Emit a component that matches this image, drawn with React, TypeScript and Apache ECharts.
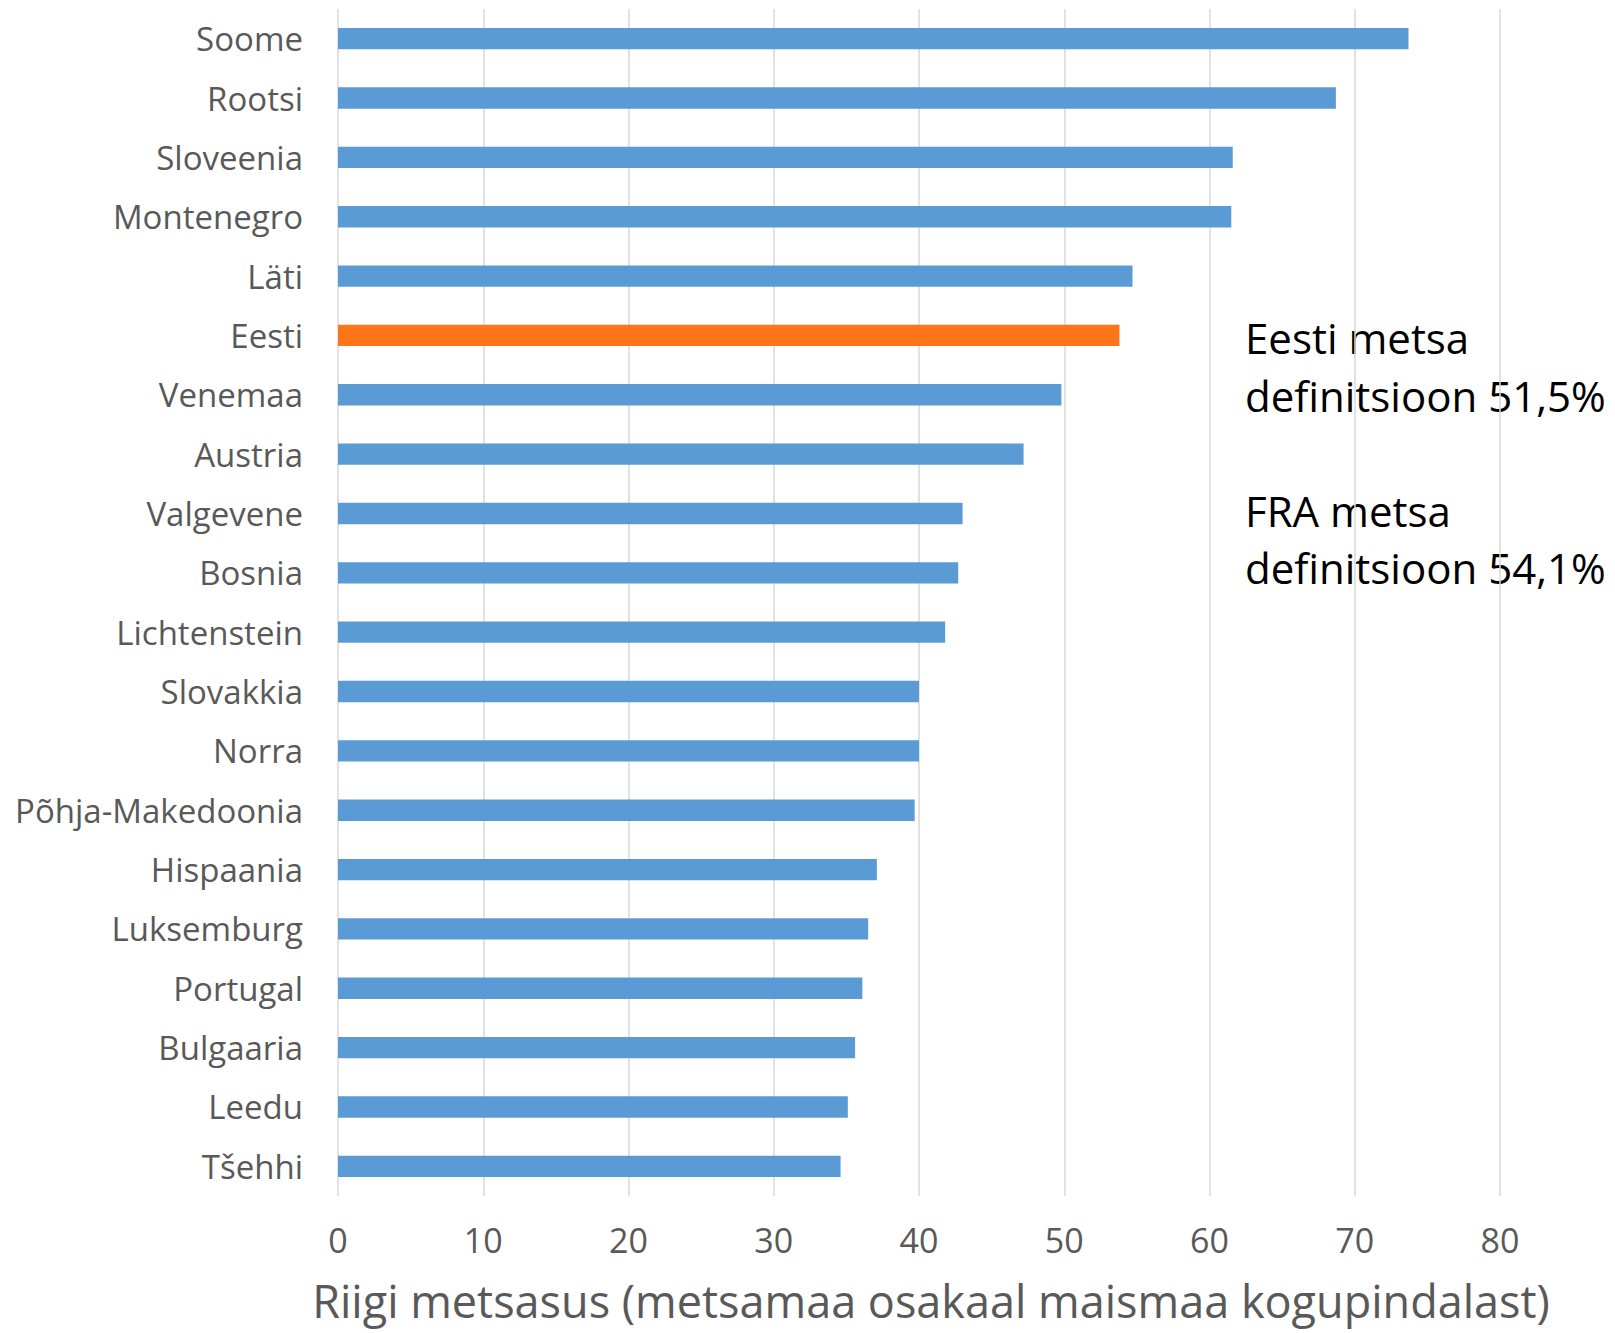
import React, { useEffect, useRef } from "react";
import * as echarts from "echarts";

const categories = [
  "Soome", "Rootsi", "Sloveenia", "Montenegro", "Läti", "Eesti", "Venemaa",
  "Austria", "Valgevene", "Bosnia", "Lichtenstein", "Slovakkia", "Norra",
  "Põhja-Makedoonia", "Hispaania", "Luksemburg", "Portugal", "Bulgaaria",
  "Leedu", "Tšehhi",
];
const values = [
  73.7, 68.7, 61.6, 61.5, 54.7, 53.8, 49.8,
  47.2, 43.0, 42.7, 41.8, 40.0, 40.0,
  39.7, 37.1, 36.5, 36.1, 35.6,
  35.1, 34.6,
];
const highlighted = "Eesti";
const xTicks = { min: 0, max: 80, interval: 10 };
const axisTitle = "Riigi metsasus (metsamaa osakaal maismaa kogupindalast)";
const noteLines = [
  "Eesti metsa",
  "definitsioon 51,5%",
  "FRA metsa",
  "definitsioon 54,1%",
];

const FONT = "'Open Sans', sans-serif";
const GREY = "#595959";
const BLUE = "#5B9BD5";
const ORANGE = "#FF7519";

export default function App() {
  const ref = useRef<HTMLDivElement>(null);
  useEffect(() => {
    if (!ref.current) return;
    const chart = echarts.init(ref.current, undefined, { renderer: "svg" });
    const noteY = [337, 395, 510, 567];
    chart.setOption({
      animation: false,
      backgroundColor: "#ffffff",
      grid: { left: 338, right: 115, top: 9, bottom: 137, containLabel: false },
      xAxis: {
        type: "value",
        min: xTicks.min,
        max: xTicks.max,
        interval: xTicks.interval,
        axisLine: { show: false },
        axisTick: { show: false },
        splitLine: { show: true, lineStyle: { color: "#D9D9D9", width: 1.5 } },
        axisLabel: { color: GREY, fontFamily: FONT, fontSize: 34, margin: 27 },
        name: axisTitle,
        nameLocation: "middle",
        nameGap: 81,
        nameTextStyle: {
          color: GREY,
          fontFamily: FONT,
          fontSize: 45,
          lineHeight: 46,
          padding: [0, 0, 0, 24],
        },
      },
      yAxis: {
        type: "category",
        inverse: true,
        data: categories,
        axisLine: { show: false },
        axisTick: { show: false },
        axisLabel: { color: GREY, fontFamily: FONT, fontSize: 33, margin: 35 },
      },
      series: [
        {
          type: "bar",
          barWidth: "36%",
          data: values.map((v, i) => ({
            value: v,
            itemStyle: { color: categories[i] === highlighted ? ORANGE : BLUE },
          })),
        },
      ],
      graphic: noteLines.map((t, i) => ({
        type: "text",
        x: 1245,
        y: noteY[i],
        style: {
          text: t,
          fill: "#000000",
          font: `42px ${FONT}`,
          verticalAlign: "middle",
          align: "left",
        },
      })),
    });
    return () => chart.dispose();
  }, []);
  return (
    <div
      ref={ref}
      style={{ position: "fixed", left: 0, top: 0, width: 1615, height: 1333 }}
    />
  );
}
